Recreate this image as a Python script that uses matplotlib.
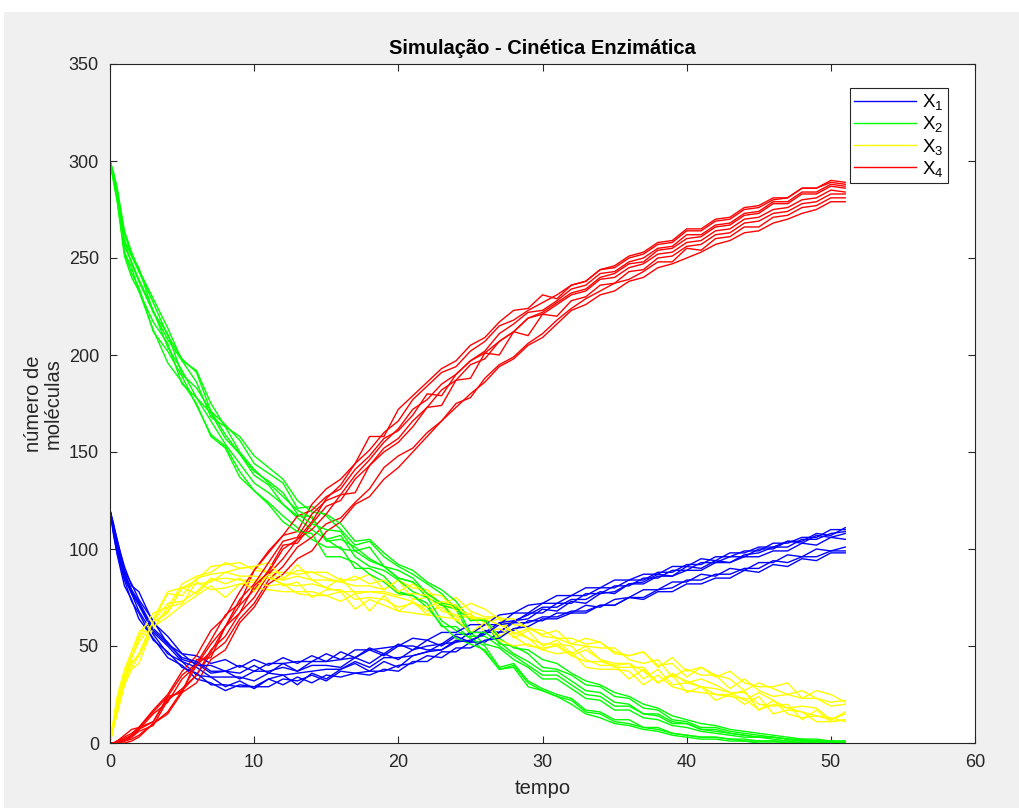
import numpy as np
import matplotlib
matplotlib.use("Agg")
import matplotlib.pyplot as plt
from matplotlib.patches import Rectangle

plt.rcParams['font.family'] = ['Liberation Sans', 'DejaVu Sans']

# time grid: 0, 0.25, 0.5, 1, 1.5, then 2..51
T = [0, 0.25, 0.5, 1, 1.5] + list(range(2, 52))

# ---------------- X1 (blue) runs ----------------
X1_runs = [
    [120,109,100,85,77, 68,56,46,42,35,34,29,32,28,33, 35,30,36,33,38,41,37,42,39,45,
     47,48,53,52,58,57,63,64,69,68, 73,72,77,78,82,83,87,86,91,90, 94,93,97,98,101,101,105,105,108,109],
    [120,113,104,91,81, 78,62,55,46,45,41,43,39,43,40, 44,41,45,42,47,44,49,46,51,48,
     53,50,55,52,57,57,62,62,65,65, 68,68,71,71,75,74,78,78,82,82, 85,85,89,88,92,91,95,94,98,98],
    [120,107,97,81,74, 64,54,44,40,33,31,27,30,29,33, 30,34,31,35,34,36,35,38,37,42,
     42,47,47,52,52,57,58,63,63,67, 67,71,70,74,75,79,79,83,83,87, 86,90,89,93,93,97,96,100,99,101],
    [120,111,104,88,79, 73,59,52,43,41,36,37,33,37,37, 39,37,40,40,39,44,41,46,43,48,
     50,51,56,56,61,61,67,67,72,72, 76,76,80,80,84,84,88,88,92,92, 96,96,99,99,103,103,106,106,110,110],
    [120,110,102,86,77, 71,57,50,42,39,34,34,34,32,36, 35,36,37,38,38,42,39,44,44,45,
     47,51,52,57,57,62,63,66,70,70, 74,74,78,77,82,82,86,86,89,89, 93,93,96,96,99,99,103,102,106,105],
    [120,112,105,89,82, 74,63,51,46,40,40,37,40,37,41, 41,42,42,46,43,48,48,49,50,54,
     53,57,57,61,61,66,67,71,72,76, 76,80,80,84,84,87,87,91,91,95, 94,98,98,101,101,104,104,108,107,111],
    [120,108,98,84,73, 67,53,47,39,36,30,30,29,29,29, 33,32,35,32,37,36,37,37,40,41,
     45,44,49,49,53,54,59,60,64,64, 67,67,71,71,75,75,79,80,84,84, 87,87,90,90,94,93,96,96,99,99],
    [120,110,101,88,78, 72,58,51,44,42,37,37,36,40,36, 41,37,42,42,43,44,48,45,50,50,
     48,48,52,53,56,61,62,67,67,72, 72,77,77,81,81,85,85,89,89,93, 93,96,96,100,100,104,103,107,106,108],
]

# ---------------- X2 (green) runs ----------------
X2_runs = [
    [300,290,280,253,242, 235,212,202,189,174,159,153,140,130,124, 117,111,105,101,101,90,90,86,78,76,
     72,60,60,54,47,38,40,31,27,24, 22,16,15,11,10,8,7,5,4,3, 3,2,1,1,1,0,0,0,0,0],
    [300,293,284,263,251, 243,227,210,198,191,171,164,156,144,139, 134,121,122,117,110,102,104,96,91,87,
     82,77,69,64,63,51,50,46,39,38, 35,30,29,24,23,18,17,12,11,8, 8,6,5,4,3,2,2,1,1,1],
    [300,291,283,256,248, 239,223,204,192,178,170,157,149,138,133, 123,117,117,104,105,101,95,91,85,83,
     77,72,63,57,51,49,43,39,33,33, 28,23,22,17,17,13,12,9,8,6, 5,4,3,3,2,1,1,1,0,0],
    [300,290,281,253,245, 233,217,206,185,178,166,154,144,134,129, 123,116,110,105,100,99,94,91,85,83,
     75,71,69,55,55,50,45,40,35,35, 30,25,24,19,19,15,14,10,10,7, 6,5,4,3,3,2,1,1,1,0],
    [300,293,285,259,251, 245,222,208,197,186,168,163,150,141,134, 127,120,116,105,107,96,91,89,84,78,
     75,63,58,54,50,39,41,32,28,25, 23,17,16,12,12,8,8,5,4,3, 3,2,2,1,1,1,0,0,0,0],
    [300,294,286,264,253, 244,229,214,197,192,175,163,158,148,142, 136,125,119,118,113,104,105,98,92,89,
     83,79,73,63,64,54,49,48,43,41, 36,32,30,26,24,20,18,14,12,10, 9,7,6,5,4,3,2,2,1,1],
    [300,289,279,251,240, 233,213,196,186,175,158,152,137,130,123, 114,109,108,96,96,93,87,83,77,76,
     70,61,54,51,48,38,39,29,27,24, 20,15,13,10,9,7,6,4,3,2, 2,1,1,0,0,0,0,0,0,0],
    [300,292,282,259,247, 238,222,211,190,183,171,159,149,140,135, 129,118,113,110,109,99,101,91,89,85,
     77,72,71,57,57,52,46,42,37,37, 32,27,26,21,20,15,15,11,10,7, 7,5,4,3,3,2,1,1,1,0],
]

# ---------------- X3 (yellow) runs ----------------
X3_runs = [
    [0,10,21,34,44, 54,63,77,76,85,87,88,90,91,88, 84,92,84,84,83,81,81,79,84,74,
     75,71,70,66,62,64,54,58,50,53, 46,50,43,39,39,39,31,35,32,29, 28,26,26,20,19,20,12,17,11,12],
    [0,8,15,30,38, 41,60,65,71,76,81,75,82,80,79, 78,78,78,76,73,77,68,76,68,73,
     66,72,65,65,64,65,56,59,58,54, 54,51,52,47,45,47,39,44,37,39, 34,37,31,29,29,31,23,27,25,21],
    [0,12,24,38,47, 57,64,78,80,84,91,92,93,89,88, 88,87,88,88,84,84,87,79,84,80,
     79,71,75,68,65,65,61,60,55,54, 51,50,49,49,43,41,43,34,38,35, 35,28,33,27,24,25,23,23,19,20],
    [0,9,17,31,42, 45,62,67,80,77,84,85,84,84,85, 82,81,82,80,78,78,78,77,75,73,
     68,70,63,67,57,59,55,50,49,50, 45,42,42,40,33,38,31,35,26,29, 22,25,20,24,15,17,16,11,11,12],
    [0,11,18,33,44, 52,62,68,80,82,83,88,86,86,85, 84,86,84,80,85,77,78,78,76,77,
     76,68,66,65,64,55,59,54,48,51, 45,48,43,41,41,37,31,36,31,33, 30,26,22,26,22,18,19,18,12,16],
    [0,8,16,30,39, 45,59,70,72,83,79,80,82,83,81, 82,77,76,76,78,69,74,71,68,67,
     66,65,64,57,62,53,50,51,48,46, 47,39,38,38,37,30,35,29,27,26, 25,24,23,17,22,15,13,14,13,11],
    [0,12,23,35,47, 55,67,70,82,86,88,93,90,91,93, 85,89,88,85,83,86,82,84,78,82,
     77,76,68,72,69,64,64,59,56,58, 51,54,52,46,45,47,40,41,34,39, 35,33,27,31,28,25,27,23,21,22],
    [0,10,19,33,41, 46,63,72,73,78,85,82,85,78,87, 81,83,75,79,79,74,75,74,70,72,
     70,73,71,64,64,61,57,54,51,51, 50,43,40,40,41,33,38,30,31,29, 25,25,27,17,20,18,16,14,12,15],
]

# ---------------- X4 (red) runs ----------------
X4_runs = [
    [0,0,0,1,2, 4,10,16,27,35,46,52,64,72,84, 91,101,106,113,116,124,131,142,148,152,
     160,166,175,178,188,195,199,206,211,218, 224,229,233,237,239,243,248,248,255,254, 260,261,266,266,271,272,276,277,281,281],
    [0,0,1,3,5, 8,16,24,35,41,53,66,72,89,98, 107,109,123,131,136,144,158,158,172,179,
     186,193,197,205,209,217,223,224,231,229, 236,238,244,245,250,252,257,258,264,264, 269,270,275,276,280,281,286,286,289,288],
    [0,0,0,2,4, 8,11,24,26,43,44,60,71,79,89, 102,103,113,122,125,136,143,152,157,166,
     173,182,187,195,198,207,212,219,221,226, 231,233,239,240,245,247,252,253,258,259, 264,265,270,271,275,276,280,281,285,284],
    [0,0,1,4,7, 8,17,25,37,45,58,65,78,89,99, 107,117,120,127,131,141,148,157,161,169,
     180,179,190,197,201,207,212,219,222,227, 232,234,240,242,247,248,254,255,260,261, 266,267,272,273,278,278,283,283,287,286],
    [0,0,0,0,1, 3,10,15,26,31,43,48,62,70,82, 87,95,99,109,114,123,127,136,142,150,
     158,166,173,180,186,194,198,205,209,216, 223,226,231,233,238,240,245,247,250,253, 257,259,263,264,268,270,273,275,279,279],
    [0,0,0,1,3, 6,9,22,28,35,48,55,67,75,87, 95,105,110,118,128,129,143,150,155,163,
     173,174,187,188,201,200,212,210,221,220, 228,230,236,237,243,244,250,251,256,257, 262,263,268,269,273,274,278,279,283,283],
    [0,0,1,2,4, 7,15,21,33,40,51,60,74,82,93, 104,106,118,125,128,138,146,155,162,172,
     177,185,190,197,202,211,216,222,223,228, 234,236,242,243,248,250,255,256,262,262, 267,268,273,274,279,279,284,284,288,287],
    [0,0,0,2,3, 7,11,23,27,40,47,60,67,81,88, 100,105,114,126,133,144,151,160,166,177,
     184,191,194,202,207,215,218,223,227,231, 236,238,244,246,251,253,258,259,265,265, 270,271,276,277,281,281,286,286,290,289],
]

species_labels = [r'$\mathregular{X_1}$', r'$\mathregular{X_2}$',
                  r'$\mathregular{X_3}$', r'$\mathregular{X_4}$']
colors = ['#0000FF', '#00FF00', '#FFFF00', '#FF0000']

x_ticks = [0, 10, 20, 30, 40, 50, 60]
y_ticks = [0, 50, 100, 150, 200, 250, 300, 350]

W, H = 1019, 808
fig = plt.figure(figsize=(W / 100, H / 100), dpi=100, facecolor='white')
fig.patches.append(Rectangle((4 / W, 0), 1, 1 - 12 / H, transform=fig.transFigure,
                             facecolor='#F0F0F0', edgecolor='none', zorder=-10))

ax = fig.add_axes([110 / W, 1 - 743 / H, (975 - 110) / W, (743 - 64) / H])
ax.set_facecolor('white')

allruns = [X1_runs, X2_runs, X3_runs, X4_runs]
nruns = len(X1_runs)
handles = [None] * 4
for k in range(nruns):
    for s in range(4):
        v = allruns[s][k]
        n = min(len(T), len(v))
        ln, = ax.plot(T[:n], v[:n], color=colors[s], lw=1.0, solid_joinstyle='round')
        if handles[s] is None:
            handles[s] = ln

ax.set_xlim(0, 60)
ax.set_ylim(0, 350)
ax.set_xticks(x_ticks)
ax.set_yticks(y_ticks)
tc = '#262626'
ax.tick_params(direction='in', length=5, width=0.8, top=True, right=True,
               labelsize=13, colors=tc)
ax.tick_params(axis='x', pad=8)
ax.tick_params(axis='y', pad=8)
for sp in ax.spines.values():
    sp.set_color(tc)
    sp.set_linewidth(0.8)

ax.set_title('Simulação - Cinética Enzimática', fontsize=14.5, fontweight='bold',
             color='black', pad=7)
ax.set_xlabel('tempo', fontsize=14.5, color=tc, labelpad=6)
ax.set_ylabel('número de\nmoléculas', fontsize=14.5, color=tc, labelpad=4,
              linespacing=1.05)

leg = ax.legend(handles, species_labels, loc='upper right',
                bbox_to_anchor=(1 - 27 / 865, 1 - 24 / 679),
                borderaxespad=0, frameon=True, fancybox=False, fontsize=13.5,
                handlelength=3.3, handletextpad=0.35, labelspacing=0.12,
                borderpad=0.22, edgecolor='#262626', framealpha=1)
leg.get_frame().set_linewidth(0.8)

fig.savefig('out.png', dpi=100, facecolor=fig.get_facecolor())
